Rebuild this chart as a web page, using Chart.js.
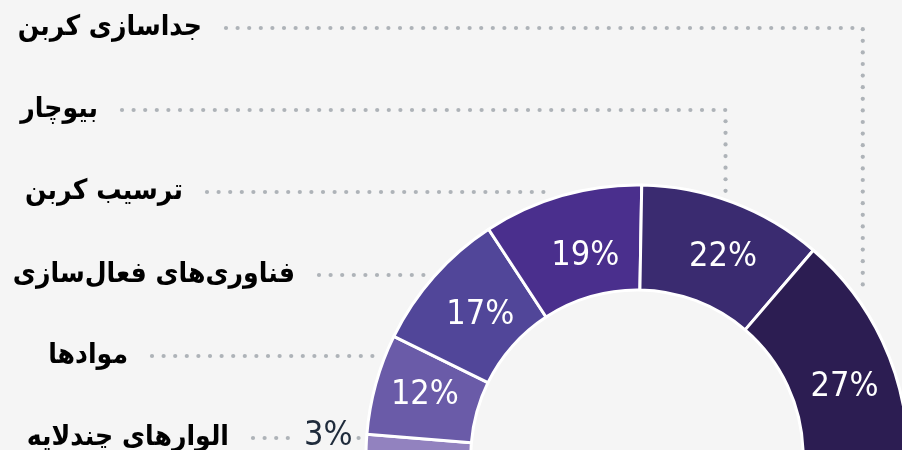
<!DOCTYPE html>
<html><head><meta charset="utf-8">
<script src="https://cdn.jsdelivr.net/npm/chart.js@4.4.1/dist/chart.umd.min.js"></script>
<style>
html,body{margin:0;padding:0;background:#f5f5f5;}
#wrap{position:relative;width:902px;height:450px;overflow:hidden;}
</style></head><body>
<div id="wrap"><canvas id="c"></canvas></div>
<script>
// ---- data ----
const categories = ['الوارهای چندلایه', 'موادها', 'فناوری\u200cهای فعال\u200cسازی', 'ترسیب کربن', 'بیوچار', 'جداسازی کربن'];
const shares = [3, 12, 17, 19, 22, 27];
const shareLabels = ['3%', '12%', '17%', '19%', '22%', '27%'];

// ---- style / layout ----
const sliceColors = ['#9282bf', '#6a5ba8', '#514699', '#4a2f8d', '#3a2b70', '#2c1d52'];
const CX = 637, CY = 456, R_OUT = 271, CUTOUT = '61.3%', ROTATION = -90.8, SWEEP = 180;
const rowY = [438, 356, 275, 192, 110, 28];          // label row per category
const labelRight = [229, 128, 295, 183, 98, 202];    // right edge of category text
const pctNudgeDeg = [0, 0.5, 0.4, 1.6, 2.6, 6.8];     // text placement tweak inside slices
const pctNudgeR = [0, 2, -8, -12, -2, 0];
const W = 902, H = 450;
const CAT_FONT = 'bold 28px "DejaVu Sans Condensed", "DejaVu Sans"';
const PCT_FONT = '34px "DejaVu Sans Condensed", "DejaVu Sans"';

// padding so the doughnut centre lands at (CX, CY)
const a0 = (ROTATION - 90) * Math.PI / 180, a1 = a0 + SWEEP * Math.PI / 180;
const maxY = Math.max(Math.sin(a0), Math.sin(a1));
const maxX = Math.max(Math.cos(a0), Math.cos(a1));
const offY = -(maxY - 1) / 2, offX = -(maxX - 1) / 2;
const padLeft = 2 * (CX - offX * R_OUT) - W;
const padTop = 2 * (CY - offY * R_OUT) - H;

function dotPath(ctx, pts, step, r) {
  let carry = 0;
  for (let k = 0; k < pts.length - 1; k++) {
    const [x1, y1] = pts[k], [x2, y2] = pts[k + 1];
    const len = Math.hypot(x2 - x1, y2 - y1);
    let d = carry;
    while (d <= len + 0.01) {
      const t = d / len;
      ctx.beginPath();
      ctx.arc(x1 + (x2 - x1) * t, y1 + (y2 - y1) * t, r, 0, Math.PI * 2);
      ctx.fill();
      d += step;
    }
    carry = d - len;
  }
}

const annot = {
  id: 'annot',
  afterDatasetsDraw(chart) {
    const ctx = chart.ctx;
    const meta = chart.getDatasetMeta(0);
    meta.data.forEach((arc, i) => {
      const p = arc.getProps(['x', 'y', 'startAngle', 'endAngle', 'innerRadius', 'outerRadius'], true);
      const mid = (p.startAngle + p.endAngle) / 2;
      const rl = p.outerRadius + 8;
      const ry = rowY[i];
      // category label
      ctx.save();
      ctx.font = CAT_FONT;
      ctx.fillStyle = '#000';
      ctx.direction = 'rtl';
      ctx.textAlign = 'right';
      ctx.textBaseline = 'middle';
      ctx.fillText(categories[i], labelRight[i], ry);
      ctx.restore();
      const startX = labelRight[i] + 24;
      // leader path
      let pts;
      if (Math.cos(mid) < 0) {
        const ex = p.x - Math.sqrt(Math.max(rl * rl - (p.y - ry) * (p.y - ry), 0));
        pts = [[startX, ry], [ex, ry]];
      } else {
        const vx = p.x + p.outerRadius * 0.92 * Math.cos(mid);
        const ey = p.y - Math.sqrt(Math.max(rl * rl - (vx - p.x) * (vx - p.x), 0));
        pts = [[startX, ry], [vx, ry], [vx, ey]];
      }
      ctx.save();
      ctx.fillStyle = '#aeb3b8';
      ctx.font = PCT_FONT;
      if (shares[i] < 5) {
        const end = pts[pts.length - 1];
        const w = ctx.measureText(shareLabels[i]).width;
        const tr = end[0] - 6, tl = tr - w;
        dotPath(ctx, [[startX, ry], [tl - 12, ry]], 11.6, 2.1);
        ctx.beginPath(); ctx.arc(end[0], ry, 2.1, 0, Math.PI * 2); ctx.fill();
        ctx.fillStyle = '#1f2b3b';
        ctx.textAlign = 'right';
        ctx.textBaseline = 'middle';
        ctx.fillText(shareLabels[i], tr, ry - 2);
      } else {
        dotPath(ctx, pts, 11.6, 2.1);
        const rm = (p.innerRadius + p.outerRadius) / 2 + pctNudgeR[i];
        const ang = mid + pctNudgeDeg[i] * Math.PI / 180;
        ctx.fillStyle = '#ffffff';
        ctx.textAlign = 'center';
        ctx.textBaseline = 'middle';
        ctx.fillText(shareLabels[i], p.x + rm * Math.cos(ang), p.y + rm * Math.sin(ang));
      }
      ctx.restore();
    });
  }
};

new Chart(document.getElementById('c'), {
  type: 'doughnut',
  data: {
    labels: categories,
    datasets: [{
      data: shares,
      backgroundColor: sliceColors,
      borderColor: '#ffffff',
      borderWidth: 3,
      clip: false
    }]
  },
  options: {
    responsive: true,
    maintainAspectRatio: false,
    animation: false,
    rotation: ROTATION,
    circumference: SWEEP,
    radius: R_OUT,
    cutout: CUTOUT,
    layout: { padding: { left: padLeft, top: padTop, right: 0, bottom: 0 } },
    plugins: { legend: { display: false }, tooltip: { enabled: false } },
    events: []
  },
  plugins: [annot]
});
</script>
</body></html>
